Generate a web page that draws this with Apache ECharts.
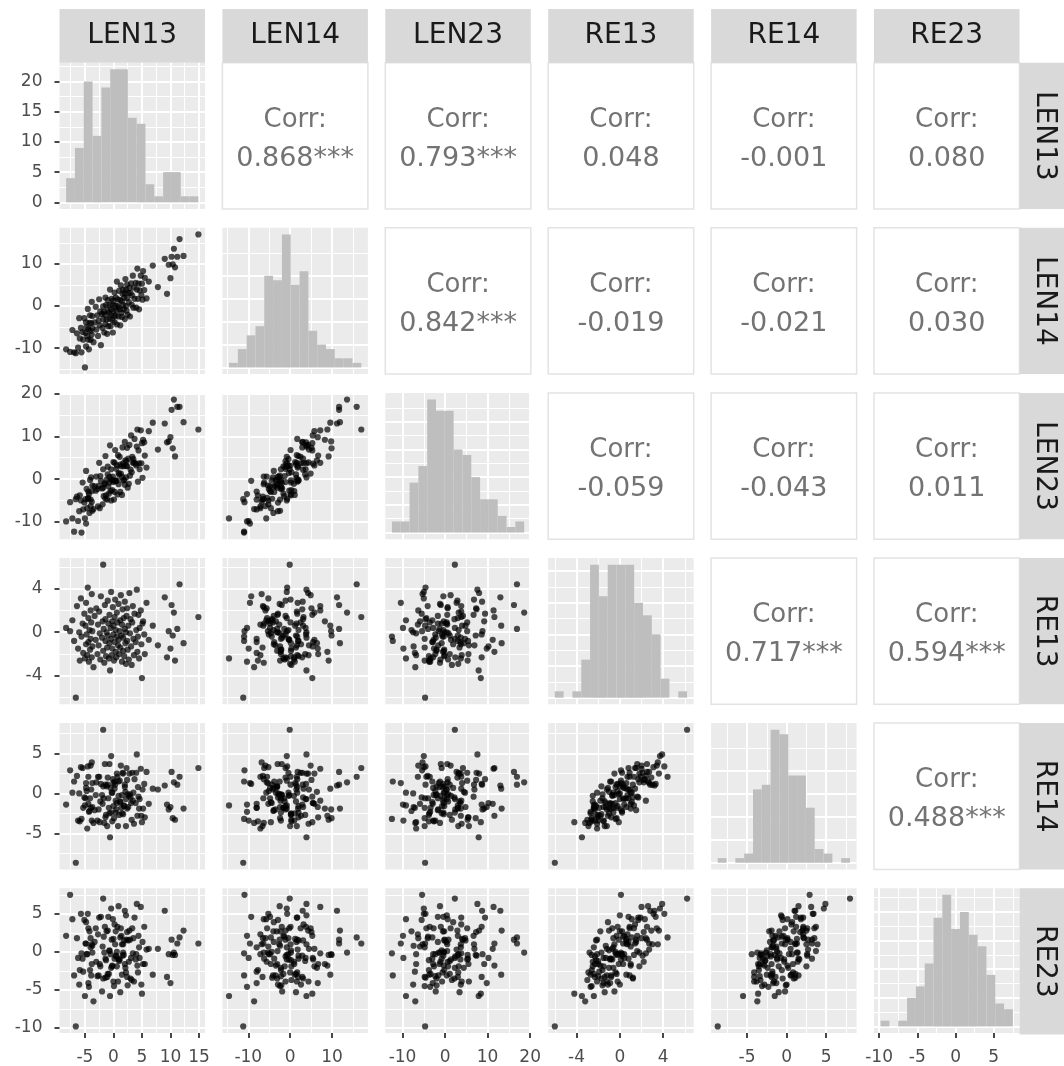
<!DOCTYPE html>
<html>
<head>
<meta charset="utf-8">
<script src="https://cdn.jsdelivr.net/npm/echarts@6/dist/echarts.min.js"></script>
<style>
  html, body { margin: 0; padding: 0; background: #fff; }
  #chart { width: 1064px; height: 1066px; }
</style>
</head>
<body>
<div id="chart"></div>
<script>
// variable names (strip labels)
const names = ['LEN13', 'LEN14', 'LEN23', 'RE13', 'RE14', 'RE23'];

// observations, estimated from the scatter panels (same order in every array)
const LEN13 = [
  -8.3, -7.6, -7.2, -6.9, -6.6, -6.4, -6.2, -6.0, -5.9, -5.7,
  -5.6, -5.4, -5.3, -5.1, -5.0, -4.9, -4.8, -4.8, -4.7, -4.6,
  -4.5, -4.4, -4.4, -4.3, -4.2, -4.1, -4.0, -4.0, -3.9, -3.8,
  -3.8, -3.7, -3.7, -3.5, -3.3, -3.1, -3.0, -2.8, -2.7, -2.6,
  -2.5, -2.4, -2.3, -2.2, -2.0, -1.9, -1.8, -1.8, -1.7, -1.6,
  -1.5, -1.4, -1.4, -1.3, -1.2, -1.1, -1.0, -1.0, -0.9, -0.8,
  -0.7, -0.7, -0.6, -0.5, -0.4, -0.4, -0.3, -0.2, -0.2, -0.1,
  0.0, 0.0, 0.1, 0.2, 0.2, 0.3, 0.4, 0.4, 0.5, 0.6,
  0.6, 0.7, 0.8, 0.9, 0.9, 1.0, 1.1, 1.2, 1.2, 1.3,
  1.4, 1.5, 1.5, 1.6, 1.7, 1.7, 1.8, 1.9, 2.0, 2.0,
  2.1, 2.2, 2.2, 2.3, 2.4, 2.4, 2.5, 2.6, 2.7, 2.8,
  2.9, 3.0, 3.1, 3.2, 3.3, 3.4, 3.5, 3.6, 3.7, 3.9,
  4.0, 4.1, 4.2, 4.3, 4.4, 4.5, 4.6, 4.8, 4.9, 5.0,
  5.1, 5.2, 5.4, 5.5, 5.8, 6.2, 6.9, 7.8, 9.0, 9.4,
  9.7, 10.0, 10.2, 10.4, 10.6, 10.8, 11.2, 11.6, 12.3, 14.9
];
const LEN14 = [
  -10.3, -10.9, -5.7, -11.0, -11.2, -6.5, -9.9, -2.9, -7.7, -5.2,
  -11.0, -6.2, -8.0, -2.9, -14.6, -6.4, -3.9, -9.6, -5.1, -7.1,
  -0.7, -8.0, -5.5, -10.3, -4.0, -2.2, -5.9, -8.0, -4.1, 1.0,
  -6.8, -2.4, -5.3, -8.6, -3.9, -0.2, -5.6, -2.2, -7.1, -3.5,
  1.6, -4.6, -1.3, -9.3, -1.9, -5.2, -0.1, -3.1, -1.4, -6.3,
  -2.0, 2.0, -4.3, 0.2, -3.2, -6.6, -1.1, 1.4, -4.8, -1.6,
  -3.0, 0.2, 3.9, -4.8, -0.8, -2.2, 1.7, -3.4, 0.3, -6.3,
  -1.1, 1.2, -2.4, 3.2, -3.8, 0.1, -2.3, 2.0, -1.1, 5.8,
  -4.4, 0.1, 1.6, -2.5, -0.3, 3.6, -0.8, -4.6, 1.4, 4.9,
  -1.6, 1.1, -2.6, 2.9, 0.2, 3.9, -0.8, 2.0, -3.1, 3.0,
  6.4, 0.0, 3.9, -1.1, 1.9, 5.1, -2.1, 3.1, 0.9, 4.3,
  -2.5, 3.1, 5.4, 0.3, 2.5, 7.2, -0.4, 4.4, 1.7, 5.5,
  -0.4, 3.9, 8.9, 1.7, 5.3, -0.8, 3.7, 7.2, 2.6, 5.3,
  1.5, 8.3, 3.8, 6.7, 1.8, 5.8, 9.6, 4.5, 11.2, 2.9,
  9.8, 6.6, 11.7, 9.9, 13.6, 9.2, 11.7, 15.9, 11.9, 17.0
];
const LEN23 = [
  -9.9, -5.4, -9.2, -12.3, -4.7, -4.1, -9.8, -7.5, -3.8, -5.0,
  -12.5, -0.8, -7.1, -5.5, -9.2, -4.7, 1.9, -10.4, -2.3, -6.8,
  -4.6, -2.9, -4.4, -3.5, -7.9, -0.2, -6.3, -4.8, 0.4, -2.8,
  -5.3, -7.4, -1.5, -7.0, -1.7, -2.7, 0.6, -2.3, -6.4, -1.6,
  3.8, -6.8, 0.7, -0.4, -2.2, -5.9, 2.3, -2.0, -4.0, -1.2,
  -1.0, 5.4, -4.6, -3.8, -0.2, -4.8, 2.9, 1.1, -1.7, -3.4,
  0.5, -0.8, 7.9, -2.8, -5.0, 2.3, -0.1, -0.3, -2.6, 0.6,
  -0.7, 4.0, -4.8, 3.8, -3.0, 6.8, -0.5, -0.4, 2.4, 3.2,
  -0.3, -3.6, 5.6, -1.2, 1.4, 1.1, 5.2, -3.0, 3.4, 1.3,
  3.0, -3.7, 0.5, 7.4, -0.3, 3.7, 3.0, -0.2, -1.3, 8.7,
  4.4, 3.1, 0.4, 4.2, 3.0, 7.3, -2.0, 4.8, -1.1, 8.0,
  0.8, 2.2, 10.2, 1.6, 5.2, 3.8, 4.7, 3.9, 9.4, 3.6,
  3.2, 7.6, 11.6, -0.6, 6.7, 3.7, 2.3, 11.4, 3.7, 8.4,
  0.3, 9.2, 8.6, 5.5, 2.7, 11.2, 13.2, 6.9, 13.0, 8.6,
  8.8, 9.8, 16.2, 7.2, 18.6, 5.3, 16.9, 16.9, 13.3, 11.6
];
const RE13 = [
  0.4, 0.1, 1.1, -0.8, -6.0, 2.4, -1.5, 0.0, -2.6, 3.1,
  -0.4, 0.8, -1.9, 1.7, -2.4, 0.6, -1.1, 2.7, -0.2, -2.1,
  4.1, -0.9, 1.3, -2.7, 0.2, -1.6, 2.0, -0.6, 0.9, -2.3,
  3.5, -1.3, 0.1, -3.2, 1.5, -0.7, 2.2, -2.0, 0.7, -1.2,
  1.9, -0.1, -2.5, 3.3, -0.5, 1.0, 6.2, -1.7, 0.3, -2.8,
  2.5, -0.8, 1.2, -2.2, 0.0, -1.4, 2.9, -0.3, 0.8, -2.4,
  1.6, -1.0, -3.5, 0.4, 3.7, -0.6, -2.1, 1.0, -1.5, 2.3,
  -0.2, 0.6, -2.6, 1.4, -0.9, 3.0, -1.8, 0.2, -2.3, 1.8,
  -0.4, 0.9, -1.2, 2.6, -0.7, -2.0, 0.1, 1.1, -1.4, 3.4,
  -0.3, -2.7, 0.7, 2.1, -1.7, -0.5, 1.3, -2.2, 0.3, 2.8,
  -1.0, -2.9, 0.0, 1.5, -0.8, 2.2, -1.6, 0.6, -2.5, 3.6,
  -0.1, 1.2, -1.3, -3.0, 0.9, 2.4, -0.6, -2.1, 1.7, -0.9,
  0.2, 3.9, -1.8, -0.4, 1.6, -2.4, 0.4, 2.0, -1.1, -4.2,
  0.8, 1.0, -0.2, -2.0, 2.7, -0.7, 0.6, -1.2, 3.2, -2.3,
  0.1, -1.5, 2.5, -0.3, 1.8, -2.6, 0.3, 4.4, -1.0, 1.4
];
const RE14 = [
  -1.4, 2.9, 0.1, 1.5, -8.7, 2.2, -3.4, 0.0, -3.5, 3.3,
  -3.2, 3.2, -1.8, -0.5, -1.5, -0.6, 0.7, 1.3, 0.3, -4.4,
  3.4, -1.3, 2.1, -2.3, -2.2, -0.6, 3.5, -1.8, 0.5, -3.4,
  3.9, -1.7, 1.3, -3.7, -2.1, -0.2, 1.4, -3.4, 2.1, -2.0,
  2.1, -3.6, -1.0, 1.2, -0.2, -1.3, 8.0, 0.9, -0.6, -3.7,
  3.7, -3.0, 1.1, -2.7, 0.9, -4.1, 2.0, 1.1, -0.6, -1.8,
  3.7, -2.5, -5.5, 0.7, 4.7, -2.4, 0.1, 0.1, -3.5, 1.8,
  -1.6, 1.3, -3.1, 0.6, 1.5, 1.1, -0.9, -2.4, -2.0, 2.5,
  -1.2, 2.1, -4.1, 1.5, -0.3, -2.7, 1.6, -1.1, -1.0, 3.5,
  -1.8, -2.5, -0.2, 2.6, -2.6, 2.5, -1.5, -1.6, 0.8, 1.1,
  0.2, -4.1, -0.7, 3.2, -1.9, 1.7, -0.1, -1.7, -0.3, 2.5,
  -0.1, -0.5, -1.2, -3.3, 2.6, -0.9, 0.1, -3.8, 1.8, -1.2,
  2.6, 4.9, -2.8, 0.8, -0.4, -1.9, -0.7, 3.1, -2.8, -3.6,
  0.5, -1.9, 1.2, -3.0, 2.7, -1.3, 0.6, 0.5, 1.0, -1.4,
  -2.0, -1.7, 2.7, -3.1, 1.4, -3.3, 1.1, 2.1, -1.9, 3.2
];
const RE23 = [
  2.1, 7.5, 4.3, -3.1, -9.8, 1.8, -0.8, -4.3, -2.4, 5.0,
  -0.2, -0.9, -2.6, 4.2, -5.8, 1.1, 3.9, 1.1, -0.3, -0.3,
  5.0, -4.1, 3.1, -4.6, 2.7, -2.4, 1.8, 0.6, -3.1, -1.6,
  1.0, 0.8, -0.1, -6.5, 1.3, 3.1, -1.3, -3.2, 2.3, -3.1,
  4.5, -1.6, -1.9, 4.6, -5.2, 0.7, 7.0, -3.5, 2.0, -0.1,
  3.3, -0.9, -3.4, -1.1, 2.7, -3.3, 2.8, -2.9, 4.6, -2.9,
  0.1, 0.2, -5.8, -0.3, 5.7, -2.1, 1.6, -1.8, -1.9, 4.3,
  -3.9, 1.7, -4.5, 3.6, -0.9, 1.0, 2.7, -0.5, -0.6, -1.9,
  0.0, 3.3, -3.9, 6.0, -1.0, -1.2, -1.0, 1.9, -5.3, 3.1,
  2.1, -3.0, 1.0, -0.5, -0.1, 1.0, -0.4, 1.5, -1.6, 5.4,
  -2.1, -2.7, 4.8, 1.6, -3.3, 2.6, -4.4, 1.5, -1.3, 2.8,
  1.6, -3.5, -0.8, -3.7, 3.1, -0.2, 1.8, -3.9, 4.5, -1.0,
  -0.3, 6.3, -1.8, -2.7, 2.1, 0.6, -0.8, 5.9, -4.3, -5.5,
  1.3, -1.6, 3.3, -1.6, 0.3, 0.4, -3.0, 0.4, 5.4, -3.3,
  -0.3, -4.1, 1.6, -0.4, -0.1, -0.4, 1.1, 1.9, 2.8, 1.1
];

// histogram counts on the diagonal (15 equal bins over each variable's range)
const histLEN13 = [4, 9, 20, 11, 19, 22, 22, 14, 13, 3, 1, 5, 5, 1, 1];
const histLEN14 = [1, 4, 7, 9, 20, 19, 29, 18, 21, 8, 5, 4, 2, 2, 1];
const histLEN23 = [2, 2, 9, 12, 24, 22, 22, 15, 14, 10, 6, 6, 3, 1, 2];
const histRE13 = [1, 0, 1, 6, 21, 16, 21, 21, 21, 15, 13, 10, 3, 0, 1];
const histRE14 = [1, 0, 1, 2, 16, 17, 29, 28, 19, 19, 12, 3, 2, 0, 1];
const histRE23 = [1, 0, 1, 5, 7, 11, 19, 23, 17, 20, 16, 14, 9, 4, 3];

// correlation labels, upper triangle, row by row
const corrLabels = [
  '0.868***', '0.793***', '0.048', '-0.001', '0.080',
  '0.842***', '-0.019', '-0.021', '0.030',
  '-0.059', '-0.043', '0.011',
  '0.717***', '0.594***',
  '0.488***'
];

// axis tick labels
const ticksLEN13 = [-5, 0, 5, 10, 15];
const ticksLEN14 = [-10, 0, 10];
const ticksLEN23 = [-10, 0, 10, 20];
const ticksRE13 = [-4, 0, 4];
const ticksRE14 = [-5, 0, 5];
const ticksRE23 = [-10, -5, 0, 5];
const countTicks = [0, 5, 10, 15, 20];
const countStep = [5, 10, 5, 5, 10, 5];

const columns = [LEN13, LEN14, LEN23, RE13, RE14, RE23];
const hists = [histLEN13, histLEN14, histLEN23, histRE13, histRE14, histRE23];
const ticks = [ticksLEN13, ticksLEN14, ticksLEN23, ticksRE13, ticksRE14, ticksRE23];

// panel layout
const PW = 145.5, PH = 146.3;
const colX = c => 59.5 + c * 162.9;
const rowY = r => 62.7 + r * 165.1;

const expand = (lo, hi) => { const d = (hi - lo) * 0.05; return [lo - d, hi + d]; };
const ranges = columns.map(v => [Math.min(...v), Math.max(...v)]);
const lims = ranges.map(([lo, hi]) => expand(lo, hi));

const FONT = '"DejaVu Sans", sans-serif';

function makeAxis(gridIndex, lim, step, labelVals, show, margin) {
  return {
    type: 'value', gridIndex, min: lim[0], max: lim[1],
    minInterval: step, maxInterval: step,
    axisLine: { show: false, onZero: false },
    axisTick: { show: show, customValues: labelVals, length: 5,
      lineStyle: { color: '#333333', width: 1.8 } },
    axisLabel: { show: show, customValues: labelVals, color: '#4d4d4d',
      fontSize: 17, fontFamily: FONT, margin: margin },
    splitLine: { show: true, lineStyle: { color: '#ffffff', width: 2 } },
    minorTick: { show: false, splitNumber: 2 },
    minorSplitLine: { show: true, lineStyle: { color: '#ffffff', width: 1 } }
  };
}

const grids = [], xAxes = [], yAxes = [], series = [], graphic = [];
let k = 0, ci = 0;

for (let r = 0; r < 6; r++) {
  for (let c = 0; c < 6; c++) {
    if (c > r) {
      // correlation panel
      const x = colX(c), y = rowY(r);
      graphic.push({ type: 'rect', silent: true,
        shape: { x: x, y: y, width: PW, height: PH },
        style: { fill: '#ffffff', stroke: '#e3e3e3', lineWidth: 1.5 } });
      graphic.push({ type: 'text', silent: true, x: x + PW / 2, y: y + PH / 2 - 16,
        style: { text: 'Corr:', fill: '#737373', font: '26px ' + FONT,
          textAlign: 'center', textVerticalAlign: 'middle' } });
      graphic.push({ type: 'text', silent: true, x: x + PW / 2, y: y + PH / 2 + 23,
        style: { text: corrLabels[ci++], fill: '#737373', font: '27px ' + FONT,
          textAlign: 'center', textVerticalAlign: 'middle' } });
      continue;
    }
    grids.push({ left: colX(c), top: rowY(r), width: PW, height: PH,
      show: true, backgroundColor: '#ebebeb', borderWidth: 0 });
    const bottom = r === 5, left = c === 0;
    xAxes.push(makeAxis(k, lims[c], ticks[c][1] - ticks[c][0], ticks[c], bottom, 16));
    if (r === c) {
      const counts = hists[c];
      const top = Math.max(...counts);
      yAxes.push(makeAxis(k, [-0.05 * top, 1.05 * top], countStep[c], countTicks, left, 17));
      const [lo, hi] = ranges[c];
      const w = (hi - lo) / counts.length;
      series.push({
        type: 'custom', xAxisIndex: k, yAxisIndex: k,
        data: counts.map((n, i) => [lo + i * w, lo + (i + 1) * w, n]),
        encode: { x: [0, 1], y: 2 },
        renderItem: (params, api) => {
          if (!api.value(2)) return null;
          const p0 = api.coord([api.value(0), api.value(2)]);
          const p1 = api.coord([api.value(1), 0]);
          return { type: 'rect',
            shape: { x: p0[0], y: p0[1], width: p1[0] - p0[0], height: p1[1] - p0[1] },
            style: { fill: '#bebebe' } };
        }
      });
    } else {
      yAxes.push(makeAxis(k, lims[r], ticks[r][1] - ticks[r][0], ticks[r], left, 17));
      series.push({
        type: 'scatter', xAxisIndex: k, yAxisIndex: k,
        symbolSize: 6.2,
        itemStyle: { color: '#000000', opacity: 0.7 },
        data: columns[c].map((v, i) => [v, columns[r][i]])
      });
    }
    k++;
  }
}

// strips
names.forEach((n, c) => {
  graphic.push({ type: 'rect', silent: true,
    shape: { x: colX(c), y: 9, width: PW, height: rowY(0) - 9 },
    style: { fill: '#d9d9d9' } });
  graphic.push({ type: 'text', silent: true, x: colX(c) + PW / 2, y: 36,
    style: { text: n, fill: '#1a1a1a', font: '28px ' + FONT,
      textAlign: 'center', textVerticalAlign: 'middle' } });
  graphic.push({ type: 'rect', silent: true,
    shape: { x: 1019.5, y: rowY(c), width: 46, height: PH },
    style: { fill: '#d9d9d9' } });
  graphic.push({ type: 'text', silent: true, x: 1044, y: rowY(c) + PH / 2,
    rotation: -Math.PI / 2,
    style: { text: n, fill: '#1a1a1a', font: '28px ' + FONT,
      textAlign: 'center', textVerticalAlign: 'middle' } });
});

const chart = echarts.init(document.getElementById('chart'));
chart.setOption({
  animation: false,
  backgroundColor: '#ffffff',
  grid: grids,
  xAxis: xAxes,
  yAxis: yAxes,
  series: series,
  graphic: graphic
});
</script>
</body>
</html>
